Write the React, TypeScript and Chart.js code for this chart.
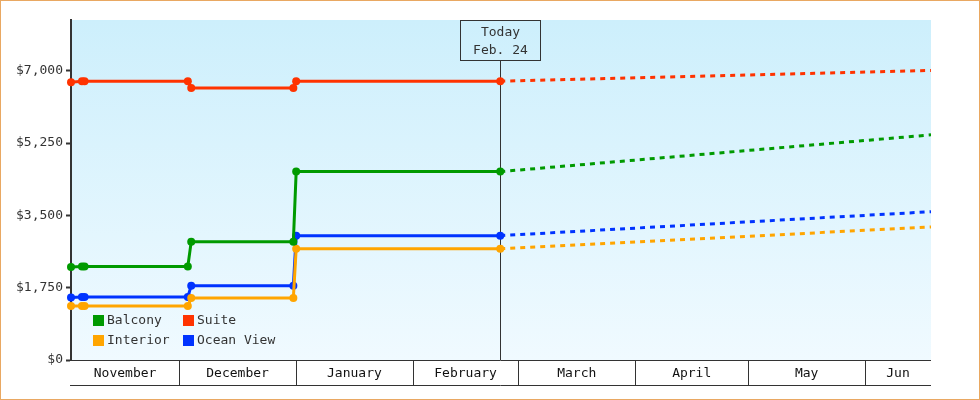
import React, { useEffect, useRef } from "react";
import { Chart, registerables } from "chart.js";

Chart.register(...registerables);

// Days counted from Nov 1
const xStartDay = 1.3;
const xEndDay = 229.5;
const todayDay = 115.2;
const todayLabel = ["Today", "Feb. 24"];

const pointDays = [1.3, 4.2, 4.9, 32.3, 33.2, 60.3, 61.05, 115.2];

const balconyValues = [2250, 2265, 2265, 2265, 2865, 2865, 4560, 4560];
const suiteValues = [6725, 6750, 6750, 6750, 6585, 6585, 6750, 6750];
const interiorValues = [1305, 1310, 1310, 1310, 1500, 1500, 2690, 2690];
const oceanValues = [1515, 1525, 1525, 1525, 1800, 1800, 3010, 3010];

const projectionDays = [115.2, 229.5];
const balconyProjection = [4560, 5450];
const suiteProjection = [6750, 7010];
const interiorProjection = [2690, 3220];
const oceanProjection = [3010, 3590];

const seriesNames = ["Balcony", "Suite", "Interior", "Ocean View"];
const seriesColors = ["#009a00", "#ff3300", "#ffa500", "#0033ff"];

const monthLabels = ["November", "December", "January", "February", "March", "April", "May", "Jun"];
const monthStartDays = [0, 30, 61, 92, 120, 151, 181, 212, 242];

const yTicks = [0, 1750, 3500, 5250, 7000];
const yMax = 8230;

const FONT = "DejaVu Sans Mono";

function toPoints(days: number[], vals: number[]) {
  return days.map((d, i) => ({ x: d, y: vals[i] }));
}

export default function App() {
  const ref = useRef<HTMLCanvasElement | null>(null);

  useEffect(() => {
    document.body.style.margin = "0";
    const canvas = ref.current;
    if (!canvas) return;

    const solid = [balconyValues, suiteValues, interiorValues, oceanValues];
    const proj = [balconyProjection, suiteProjection, interiorProjection, oceanProjection];

    const datasets: any[] = [];
    solid.forEach((vals, i) => {
      datasets.push({
        label: seriesNames[i],
        data: toPoints(pointDays, vals),
        borderColor: seriesColors[i],
        backgroundColor: seriesColors[i],
        borderWidth: 3,
        pointRadius: 4,
        pointHoverRadius: 4,
        pointBorderWidth: 0,
        tension: 0,
        clip: false,
      });
    });
    proj.forEach((vals, i) => {
      datasets.push({
        label: seriesNames[i] + " projection",
        data: toPoints(projectionDays, vals),
        borderColor: seriesColors[i],
        backgroundColor: seriesColors[i],
        borderWidth: 3,
        borderDash: [5, 5],
        pointRadius: 0,
        tension: 0,
      });
    });

    const decor = {
      id: "decor",
      beforeDraw(chart: any) {
        const { ctx, chartArea: a, width, height } = chart;
        ctx.save();
        const g = ctx.createLinearGradient(0, a.top, 0, a.bottom);
        g.addColorStop(0, "#cdeffc");
        g.addColorStop(1, "#f0faff");
        ctx.fillStyle = g;
        ctx.fillRect(a.left, a.top, a.right - a.left, a.bottom - a.top);
        ctx.strokeStyle = "#e9a862";
        ctx.lineWidth = 1;
        ctx.strokeRect(0.5, 0.5, width - 1, height - 1);
        ctx.restore();
      },
      beforeDatasetsDraw(chart: any) {
        const { ctx, chartArea: a, scales } = chart;
        const tx = Math.round(scales.x.getPixelForValue(todayDay)) + 0.5;
        ctx.save();
        ctx.strokeStyle = "#333333";
        ctx.lineWidth = 1;
        // today box
        ctx.strokeRect(tx - 40, a.top + 0.5, 80, 40);
        ctx.beginPath();
        ctx.moveTo(tx, a.top + 41);
        ctx.lineTo(tx, a.bottom);
        ctx.stroke();
        ctx.fillStyle = "#333333";
        ctx.font = `13px "${FONT}"`;
        ctx.textAlign = "center";
        ctx.textBaseline = "middle";
        ctx.fillText(todayLabel[0], tx, a.top + 13);
        ctx.fillText(todayLabel[1], tx, a.top + 31);

        // x axis month cells
        const y0 = a.bottom + 0.5;
        const y1 = a.bottom + 25.5;
        ctx.beginPath();
        ctx.moveTo(a.left - 1, y0);
        ctx.lineTo(a.right, y0);
        ctx.moveTo(a.left - 1, y1);
        ctx.lineTo(a.right, y1);
        ctx.stroke();
        ctx.fillStyle = "#111111";
        for (let i = 0; i < monthLabels.length; i++) {
          const s = Math.max(monthStartDays[i], xStartDay);
          const e = Math.min(monthStartDays[i + 1], xEndDay);
          if (e <= s) continue;
          const ps = scales.x.getPixelForValue(s);
          const pe = scales.x.getPixelForValue(e);
          if (monthStartDays[i] > xStartDay) {
            const px = Math.round(ps) + 0.5;
            ctx.beginPath();
            ctx.moveTo(px, y0);
            ctx.lineTo(px, y1);
            ctx.stroke();
          }
          ctx.fillText(monthLabels[i], (ps + pe) / 2, a.bottom + 14);
        }
        ctx.restore();
      },
      afterDatasetsDraw(chart: any) {
        const { ctx, chartArea: a } = chart;
        ctx.save();
        ctx.font = `13px "${FONT}"`;
        ctx.textAlign = "left";
        ctx.textBaseline = "middle";
        const cols = [a.left + 22, a.left + 112];
        const rows = [a.bottom - 45, a.bottom - 25];
        seriesNames.forEach((name, i) => {
          const cx = cols[i % 2];
          const cy = rows[Math.floor(i / 2)];
          ctx.fillStyle = seriesColors[i];
          ctx.fillRect(cx, cy, 11, 11);
          ctx.fillStyle = "#333333";
          ctx.fillText(name, cx + 14, cy + 6);
        });
        ctx.restore();
      },
    };

    const chart = new Chart(canvas, {
      type: "line",
      data: { datasets },
      options: {
        animation: false,
        responsive: false,
        events: [],
        layout: { padding: { top: 20, right: 49, left: 0, bottom: 0 } },
        plugins: { legend: { display: false }, tooltip: { enabled: false } },
        scales: {
          x: {
            type: "linear",
            min: xStartDay,
            max: xEndDay,
            ticks: { display: false },
            grid: { display: false },
            border: { display: false },
            afterFit: (s: any) => {
              s.height = 40;
            },
          },
          y: {
            min: 0,
            max: yMax,
            afterBuildTicks: (s: any) => {
              s.ticks = yTicks.map((v) => ({ value: v }));
            },
            ticks: {
              color: "#333333",
              font: { family: FONT, size: 13 },
              padding: 3,
              callback: (v: any) => "$" + Number(v).toLocaleString("en-US"),
            },
            grid: {
              drawOnChartArea: false,
              tickLength: 5,
              tickWidth: 2,
              tickColor: "#333333",
            },
            border: { color: "#333333", width: 2 },
            afterFit: (s: any) => {
              s.width = 71;
            },
          },
        },
      },
      plugins: [decor],
    } as any);

    return () => chart.destroy();
  }, []);

  return (
    <div style={{ width: 980, height: 400 }}>
      <canvas ref={ref} width={980} height={400} style={{ display: "block" }} />
    </div>
  );
}
